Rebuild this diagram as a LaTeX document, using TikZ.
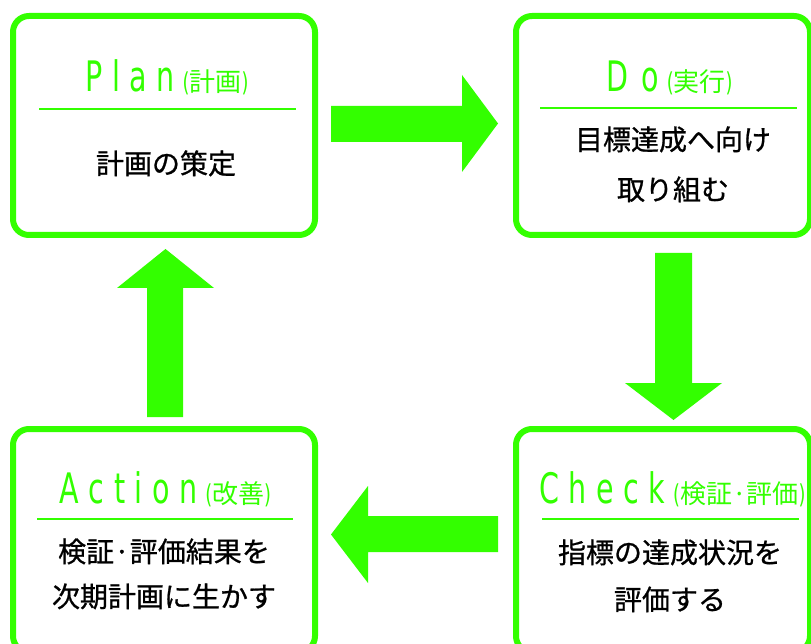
\documentclass[tikz,border=0pt]{standalone}
\usepackage{fontspec}
\newfontfamily\jpfont{Noto Sans CJK JP}
\newfontfamily\jpbodyfont[FakeBold=0.8]{Noto Sans CJK JP}
\newfontfamily\latfont[FakeStretch=0.68]{DejaVu Sans}
\definecolor{pdgreen}{HTML}{33FF00}
\newcommand\tk{\kern9.5pt}
\newcommand\ttlbig{\latfont\fontsize{42}{42}\selectfont}
\newcommand\ttlsmall{\fontsize{26}{26}\selectfont}
\tikzset{
  box/.style={draw=pdgreen, line width=6pt, rounded corners=16pt, fill=white, inner sep=0pt},
  sep/.style={draw=pdgreen, line width=1.3pt},
  blockarrow/.style={fill=pdgreen, draw=none},
  ttl/.style={anchor=base, inner sep=0pt, text=pdgreen},
  body/.style={anchor=base, inner sep=0pt, text=black, font=\jpbodyfont\fontsize{28}{28}\selectfont},
}
\begin{document}
\begin{tikzpicture}[x=1pt,y=-1pt]
\useasboundingbox (0,0) rectangle (811,644);
\clip (0,0) rectangle (811,644);
\fill[white] (0,0) rectangle (811,644);

% boxes
\node[box, minimum width=302pt, minimum height=219pt] (plan) at (164,125.5) {};
\node[box, minimum width=294pt, minimum height=219pt] (do) at (663,125.5) {};
\node[box, minimum width=302pt, minimum height=223pt] (action) at (164,540.5) {};
\node[box, minimum width=294pt, minimum height=223pt] (check) at (663,540.5) {};

% titles
\node[ttl] (plant) at (167,92) {\ttlbig P\tk l\tk a\tk n\kern8pt{\ttlsmall(}{\jpfont\ttlsmall 計画}{\ttlsmall)}};
\node[ttl] (dot) at (669.5,92) {\ttlbig D\kern13pt o\kern8pt{\ttlsmall(}{\jpfont\ttlsmall 実行}{\ttlsmall)}};
\node[ttl] (actiont) at (165.5,503) {\ttlbig A\tk c\tk t\tk i\tk o\tk n\kern8pt{\ttlsmall(}{\jpfont\ttlsmall 改善}{\ttlsmall)}};
\node[ttl] (checkt) at (672.5,503) {\ttlbig C\tk h\tk e\tk c\tk k\kern8pt{\ttlsmall(}{\jpfont\ttlsmall 検証·評価}{\ttlsmall)}};

% separators
\coordinate (ps1) at (39,109); \coordinate (ps2) at (296,109);
\coordinate (ds1) at (540,108); \coordinate (ds2) at (797,108);
\coordinate (as1) at (37,519); \coordinate (as2) at (293,519);
\coordinate (cs1) at (542,519); \coordinate (cs2) at (799,519);
\draw[sep] (ps1) -- (ps2);
\draw[sep] (ds1) -- (ds2);
\draw[sep] (as1) -- (as2);
\draw[sep] (cs1) -- (cs2);

% body texts
\node[body] (planb) at (166,174) {計画の策定};
\node[body] (dob1) at (673,150) {目標達成へ向け};
\node[body] (dob2) at (673,200) {取り組む};
\node[body] (checkb1) at (670,563) {指標の達成状況を};
\node[body] (checkb2) at (670,610) {評価する};
\node[body] (actionb1) at (164,562) {検証·評価結果を};
\node[body] (actionb2) at (164,607) {次期計画に生かす};

% block arrows
\fill[blockarrow] (331,106) -- (462,106) -- (462,75) -- (498,123.5) -- (462,172) -- (462,142) -- (331,142) -- cycle;
\fill[blockarrow] (655,253) -- (692,253) -- (692,383) -- (722,383) -- (673.5,420) -- (625,383) -- (655,383) -- cycle;
\fill[blockarrow] (498,516) -- (368,516) -- (368,486) -- (331,534.5) -- (368,583) -- (368,552) -- (498,552) -- cycle;
\fill[blockarrow] (147,417) -- (147,288) -- (117,288) -- (165.5,249) -- (214,288) -- (183,288) -- (183,417) -- cycle;
\end{tikzpicture}
\end{document}
